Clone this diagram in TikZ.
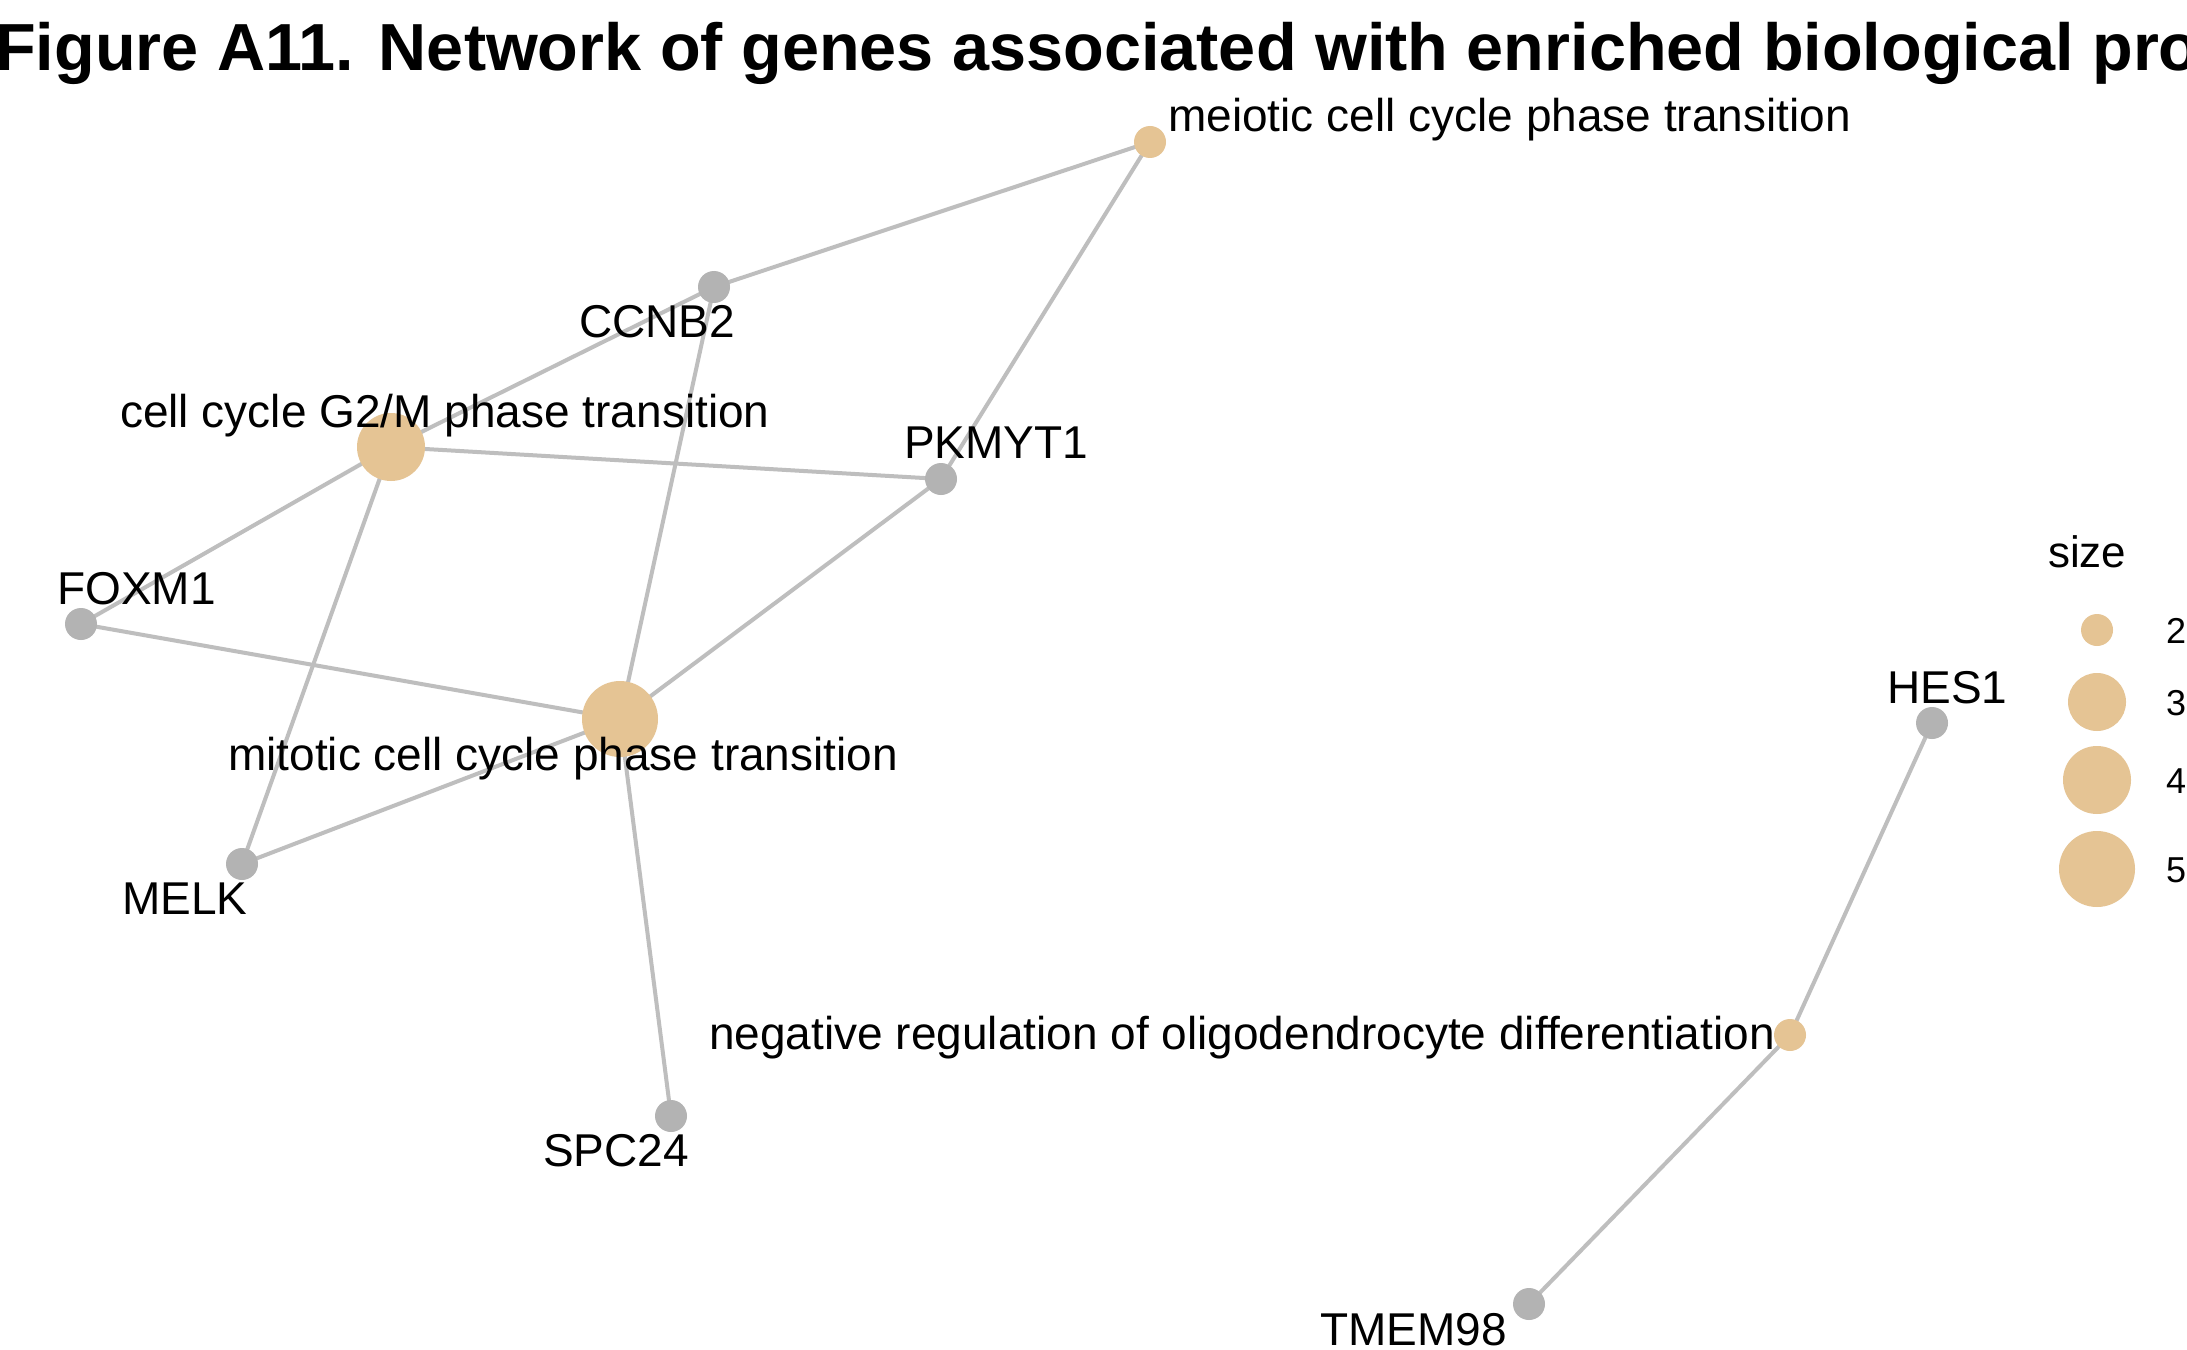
\documentclass[tikz,border=0pt]{standalone}
\usepackage{fontspec}
\setmainfont{Liberation Sans}
\usetikzlibrary{backgrounds}
\definecolor{edgegrey}{HTML}{BEBEBE}
\definecolor{genegrey}{HTML}{B3B3B3}
\definecolor{termtan}{HTML}{E5C494}
\begin{document}
\begin{tikzpicture}[x=1bp,y=-1bp,
  edge/.style={draw=edgegrey, line width=4bp},
  gene/.style={circle, fill=genegrey, minimum size=32bp, inner sep=0pt},
  term/.style={circle, fill=termtan, inner sep=0pt},
  lbl/.style={anchor=base west, inner sep=0pt, font=\fontsize{46bp}{55bp}\selectfont},
  leglbl/.style={anchor=base west, inner sep=0pt, font=\fontsize{36bp}{43bp}\selectfont},
]
\useasboundingbox (0,0) rectangle (2187,1350);
% title
\node[anchor=base west, inner sep=0pt, font=\bfseries\fontsize{66.6bp}{80bp}\selectfont] (title) at (-5,71) {Figure A11. Network of genes associated with enriched biological pro};
% nodes
\node[term, minimum size=32bp] (meiotic) at (1150,142) {};
\node[gene] (CCNB2) at (714,287) {};
\node[term, minimum size=68bp] (g2m) at (391,447) {};
\node[gene] (PKMYT1) at (941,479) {};
\node[gene] (FOXM1) at (81,624) {};
\node[term, minimum size=76bp] (mitotic) at (620,719) {};
\node[gene] (MELK) at (242,864) {};
\node[gene] (SPC24) at (671,1116) {};
\node[term, minimum size=32bp] (negreg) at (1790,1035) {};
\node[gene] (HES1) at (1932,723) {};
\node[gene] (TMEM98) at (1529,1304) {};
% edges
\begin{scope}[on background layer]
\fill[white] (0,0) rectangle (2187,1350);
\foreach \a/\b in {meiotic/CCNB2, meiotic/PKMYT1, CCNB2/g2m, CCNB2/mitotic, g2m/PKMYT1, g2m/FOXM1, g2m/MELK, mitotic/FOXM1, mitotic/PKMYT1, mitotic/MELK, mitotic/SPC24, negreg/HES1, negreg/TMEM98}
  \draw[edge] (\a.center) -- (\b.center);
\end{scope}
% labels
\node[lbl] (lmeiotic) at (1168,132) {meiotic cell cycle phase transition};
\node[lbl] (lCCNB2) at (579,337) {CCNB2};
\node[lbl] (lg2m) at (120,427) {cell cycle G2/M phase transition};
\node[lbl] (lPKMYT1) at (904,458) {PKMYT1};
\node[lbl] (lFOXM1) at (57,604) {FOXM1};
\node[lbl] (lmitotic) at (228,770) {mitotic cell cycle phase transition};
\node[lbl] (lMELK) at (122,914) {MELK};
\node[lbl] (lSPC24) at (543,1166) {SPC24};
\node[lbl] (lnegreg) at (709,1049) {negative regulation of oligodendrocyte differentiation};
\node[lbl] (lHES1) at (1887,703) {HES1};
\node[lbl] (lTMEM98) at (1320,1345) {TMEM98};
% legend
\node[anchor=base west, inner sep=0pt, font=\fontsize{44bp}{53bp}\selectfont] (legtitle) at (2048,567) {size};
\node[term, minimum size=32bp] (leg2) at (2097,630) {};
\node[term, minimum size=58bp] (leg3) at (2097,702) {};
\node[term, minimum size=68bp] (leg4) at (2097,780) {};
\node[term, minimum size=76bp] (leg5) at (2097,869) {};
\node[leglbl] (n2) at (2166,643) {2};
\node[leglbl] (n3) at (2166,715) {3};
\node[leglbl] (n4) at (2166,793) {4};
\node[leglbl] (n5) at (2166,882) {5};
\end{tikzpicture}
\end{document}
